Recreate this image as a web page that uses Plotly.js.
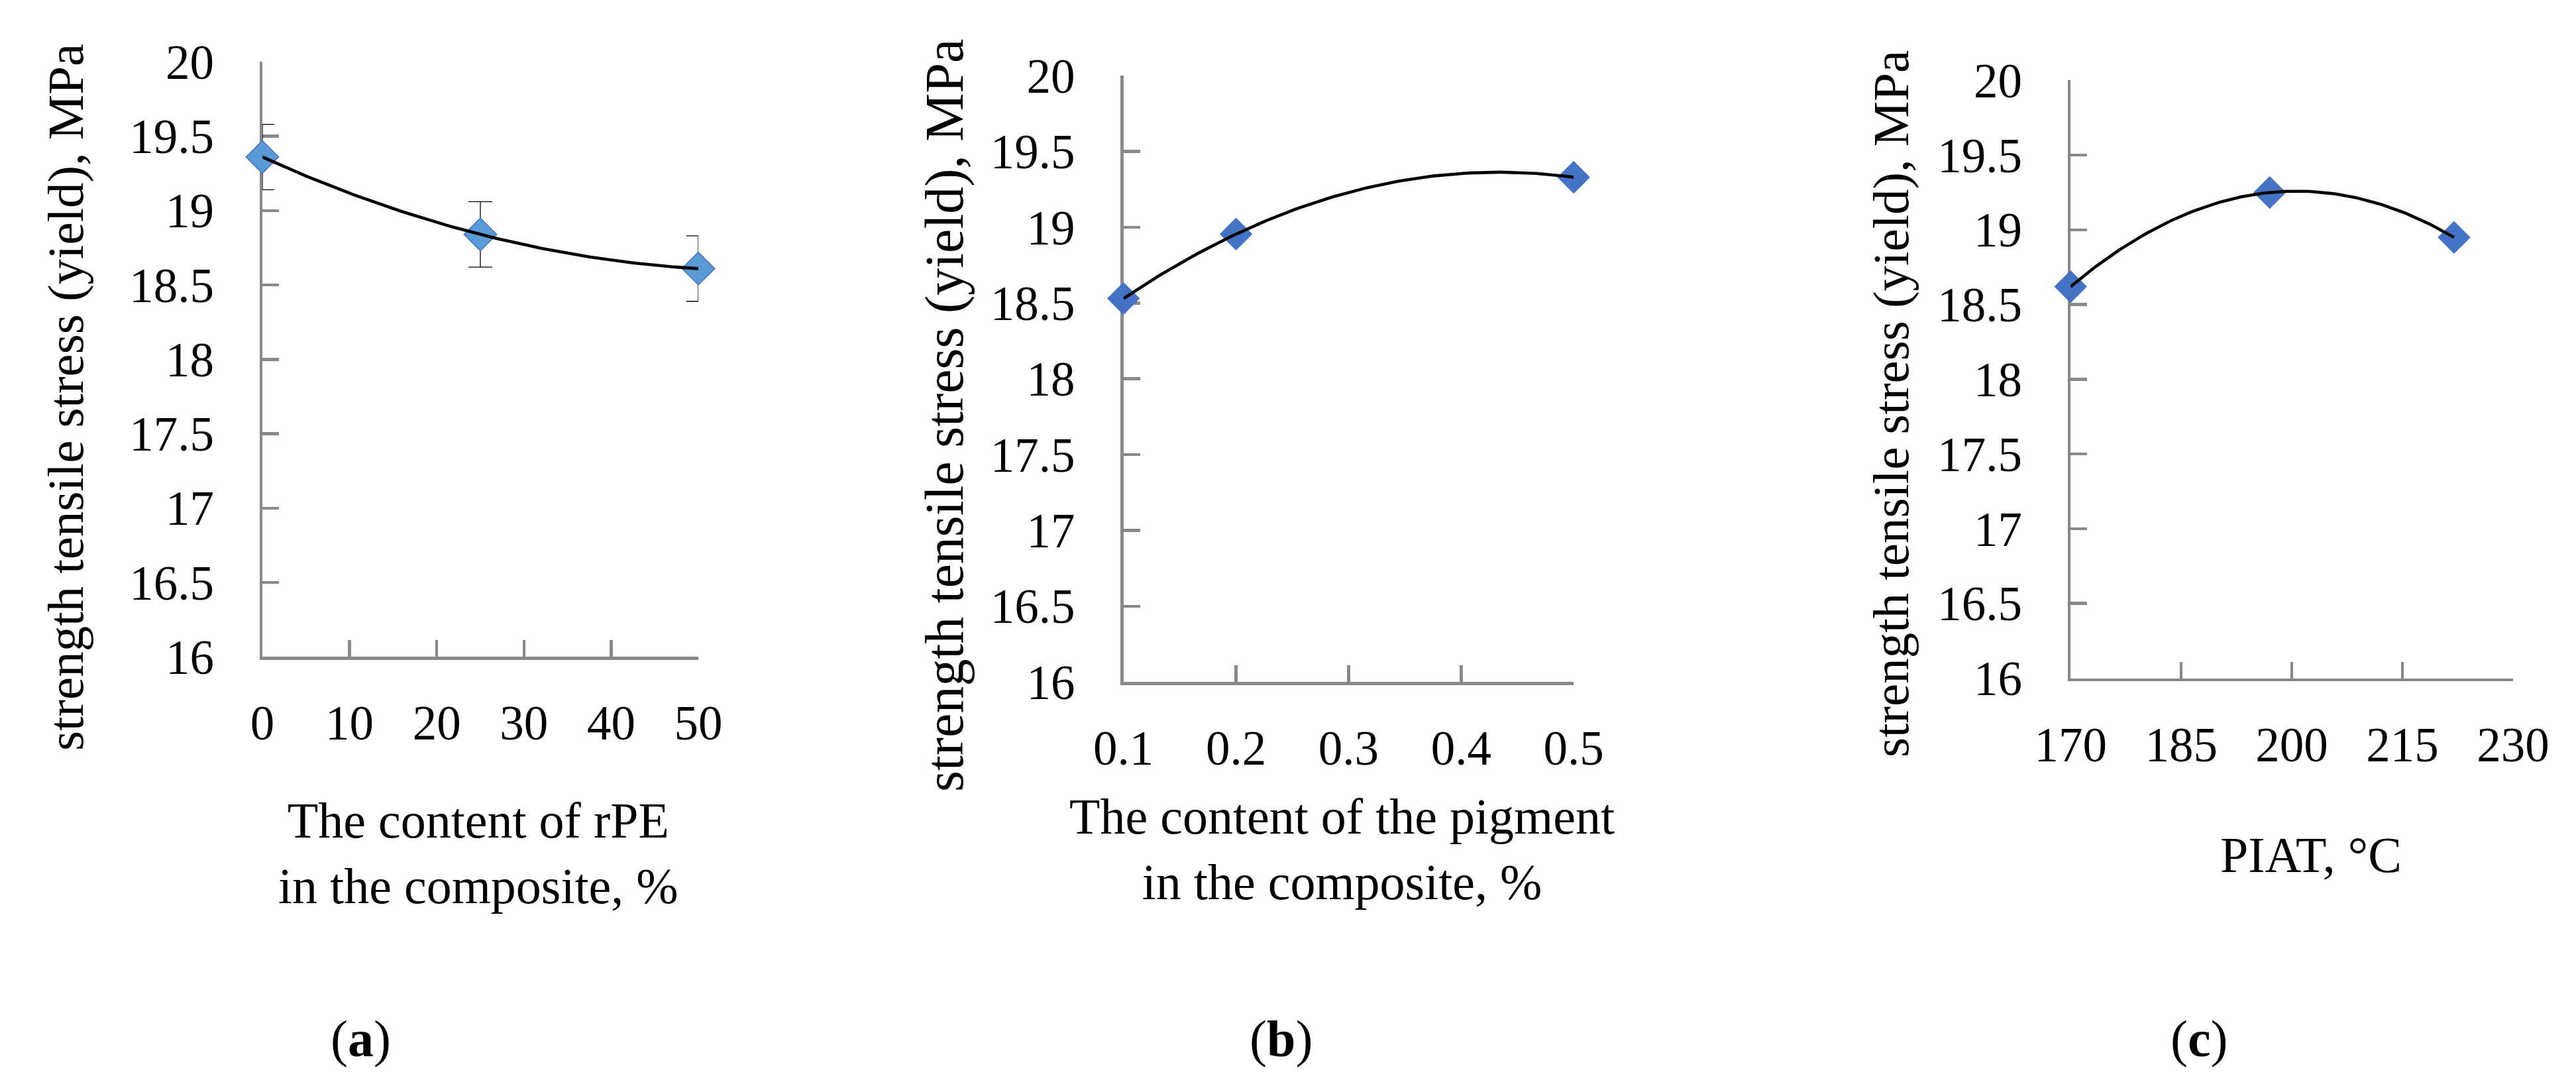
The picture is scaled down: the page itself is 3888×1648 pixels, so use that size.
<!DOCTYPE html>
<html>
<head>
<meta charset="utf-8">
<script src="https://cdn.plot.ly/plotly-3.0.1.min.js"></script>
<style>
  html, body { margin: 0; padding: 0; background: #ffffff; }
  #chart { width: 3888px; height: 1648px; }
</style>
</head>
<body>
<div id="chart"></div>
<script>
// ---------------- DATA ----------------
// Panel (a): content of rPE in the composite, %
const rpeContent = [0, 25, 50];
const rpeStress  = [19.36, 18.84, 18.61];
const rpeError   = [0.22, 0.22, 0.22];

// Panel (b): content of the pigment in the composite, %
const pigmentContent = [0.1, 0.2, 0.5];
const pigmentStress  = [18.53, 18.955, 19.33];

// Panel (c): PIAT, °C
const piatTemp   = [170, 197, 222];
const piatStress = [18.62, 19.25, 18.95];

// Tick labels
const yTickVals  = [16, 16.5, 17, 17.5, 18, 18.5, 19, 19.5, 20];
const yTickText  = ['16', '16.5', '17', '17.5', '18', '18.5', '19', '19.5', '20'];
const xTickValsA = [0, 10, 20, 30, 40, 50];
const xTickTextA = ['0', '10', '20', '30', '40', '50'];
const xTickValsB = [0.1, 0.2, 0.3, 0.4, 0.5];
const xTickTextB = ['0.1', '0.2', '0.3', '0.4', '0.5'];
const xTickValsC = [170, 185, 200, 215, 230];
const xTickTextC = ['170', '185', '200', '215', '230'];

// Texts
const yTitleText  = 'strength tensile stress (yield), MPa';
const xTitleA     = 'The content of rPE<br>in the composite, %';
const xTitleB     = 'The content of the pigment<br>in the composite, %';
const xTitleC     = 'PIAT, °C';
const panelLabels = ['(<b>a</b>)', '(<b>b</b>)', '(<b>c</b>)'];

// ---------------- HELPERS ----------------
// 2nd-order polynomial trendline (as in the original spreadsheet chart), least-squares fitted to the data
function polyTrend(xs, ys, n) {
  let s = [0, 0, 0, 0, 0], t = [0, 0, 0];
  for (let i = 0; i < xs.length; i++) {
    const x = xs[i], y = ys[i];
    for (let k = 0; k <= 4; k++) s[k] += Math.pow(x, k);
    for (let k = 0; k <= 2; k++) t[k] += y * Math.pow(x, k);
  }
  const M = [[s[0], s[1], s[2], t[0]], [s[1], s[2], s[3], t[1]], [s[2], s[3], s[4], t[2]]];
  for (let c = 0; c < 3; c++) {
    let p = c;
    for (let r = c + 1; r < 3; r++) if (Math.abs(M[r][c]) > Math.abs(M[p][c])) p = r;
    [M[c], M[p]] = [M[p], M[c]];
    for (let r = 0; r < 3; r++) {
      if (r === c) continue;
      const f = M[r][c] / M[c][c];
      for (let k = c; k < 4; k++) M[r][k] -= f * M[c][k];
    }
  }
  const a0 = M[0][3] / M[0][0], a1 = M[1][3] / M[1][1], a2 = M[2][3] / M[2][2];
  const x0 = Math.min(...xs), x1 = Math.max(...xs);
  const tx = [], ty = [];
  for (let i = 0; i <= n; i++) {
    const x = x0 + (x1 - x0) * i / n;
    tx.push(x);
    ty.push(a0 + a1 * x + a2 * x * x);
  }
  return { x: tx, y: ty };
}

const W = 3888, H = 1648;
const fx = p => p / W;
const fy = p => 1 - p / H;

const FONT = 'Liberation Serif, Times New Roman, serif';
const AXIS_GRAY = '#898989';

function axisStyle(extra) {
  return Object.assign({
    showline: true, linecolor: AXIS_GRAY, linewidth: 4.5,
    ticks: 'inside', ticklen: 25, tickwidth: 4.5, tickcolor: AXIS_GRAY,
    showgrid: false, zeroline: false, layer: 'below traces',
    tickfont: { family: FONT, size: 73, color: '#000000' },
    tickmode: 'array', fixedrange: true
  }, extra);
}

// ---------------- TRACES ----------------
const trendA = polyTrend(rpeContent, rpeStress, 120);
const trendB = polyTrend(pigmentContent, pigmentStress, 120);
const trendC = polyTrend(piatTemp, piatStress, 120);

const traces = [
  {
    x: rpeContent, y: rpeStress, xaxis: 'x', yaxis: 'y', type: 'scatter', mode: 'markers',
    cliponaxis: false,
    marker: { symbol: 'diamond', size: 38, color: '#5B9BD5', line: { color: '#4472C4', width: 1.5 } },
    error_y: { type: 'data', array: rpeError, visible: true, color: '#000000', thickness: 1.3, width: 18 }
  },
  {
    x: trendA.x, y: trendA.y, xaxis: 'x', yaxis: 'y', type: 'scatter', mode: 'lines',
    cliponaxis: false, line: { color: '#000000', width: 4.6 }
  },
  {
    x: pigmentContent, y: pigmentStress, xaxis: 'x2', yaxis: 'y2', type: 'scatter', mode: 'markers',
    cliponaxis: false,
    marker: { symbol: 'diamond', size: 38, color: '#4472C4', line: { width: 0 } }
  },
  {
    x: trendB.x, y: trendB.y, xaxis: 'x2', yaxis: 'y2', type: 'scatter', mode: 'lines',
    cliponaxis: false, line: { color: '#000000', width: 4.6 }
  },
  {
    x: piatTemp, y: piatStress, xaxis: 'x3', yaxis: 'y3', type: 'scatter', mode: 'markers',
    cliponaxis: false,
    marker: { symbol: 'diamond', size: 38, color: '#4472C4', line: { width: 0 } }
  },
  {
    x: trendC.x, y: trendC.y, xaxis: 'x3', yaxis: 'y3', type: 'scatter', mode: 'lines',
    cliponaxis: false, line: { color: '#000000', width: 4.6 }
  }
];

// ---------------- LAYOUT ----------------
const yStandoff = 54, xStandoff = 33;

const layout = {
  width: W, height: H,
  margin: { l: 0, r: 0, t: 0, b: 0, pad: 0 },
  paper_bgcolor: '#ffffff', plot_bgcolor: 'rgba(0,0,0,0)',
  showlegend: false,
  font: { family: FONT, color: '#000000' },

  xaxis: axisStyle({ domain: [fx(396), fx(1054)], range: [0, 50], anchor: 'y',
    tickvals: xTickValsA, ticktext: xTickTextA, ticklabelstandoff: xStandoff }),
  yaxis: axisStyle({ domain: [fy(991.3), fy(93.3)], range: [16, 20], anchor: 'x',
    tickvals: yTickVals, ticktext: yTickText, ticklabelstandoff: yStandoff }),

  xaxis2: axisStyle({ domain: [fx(1695.7), fx(2375.2)], range: [0.1, 0.5], anchor: 'y2',
    tickvals: xTickValsB, ticktext: xTickTextB, ticklabelstandoff: xStandoff }),
  yaxis2: axisStyle({ domain: [fy(1029.1), fy(114.3)], range: [16, 20], anchor: 'x2',
    tickvals: yTickVals, ticktext: yTickText, ticklabelstandoff: yStandoff }),

  xaxis3: axisStyle({ domain: [fx(3125.2), fx(3793)], range: [170, 230], anchor: 'y3',
    tickvals: xTickValsC, ticktext: xTickTextC, ticklabelstandoff: xStandoff }),
  yaxis3: axisStyle({ domain: [fy(1023.5), fy(121.4)], range: [16, 20], anchor: 'x3',
    tickvals: yTickVals, ticktext: yTickText, ticklabelstandoff: yStandoff }),

  annotations: [
    { text: yTitleText, textangle: -90, x: fx(99), y: fy(600), size: 77 },
    { text: yTitleText, textangle: -90, x: fx(1425), y: fy(627), size: 82 },
    { text: yTitleText, textangle: -90, x: fx(2854), y: fy(610), size: 77 },
    { text: xTitleA, x: fx(722), y: fy(1287), size: 76 },
    { text: xTitleB, x: fx(2025), y: fy(1281), size: 76 },
    { text: xTitleC, x: fx(3488), y: fy(1290), size: 76 },
    { text: panelLabels[0], x: fx(544), y: fy(1567), size: 78 },
    { text: panelLabels[1], x: fx(1933), y: fy(1567), size: 78 },
    { text: panelLabels[2], x: fx(3319), y: fy(1567), size: 78 }
  ].map(a => ({
    text: a.text, textangle: a.textangle || 0,
    x: a.x, y: a.y, xref: 'paper', yref: 'paper',
    xanchor: 'center', yanchor: 'middle', showarrow: false,
    font: { family: FONT, size: a.size, color: '#000000' }
  }))
};

Plotly.newPlot('chart', traces, layout, { staticPlot: true, displayModeBar: false });
</script>
</body>
</html>
